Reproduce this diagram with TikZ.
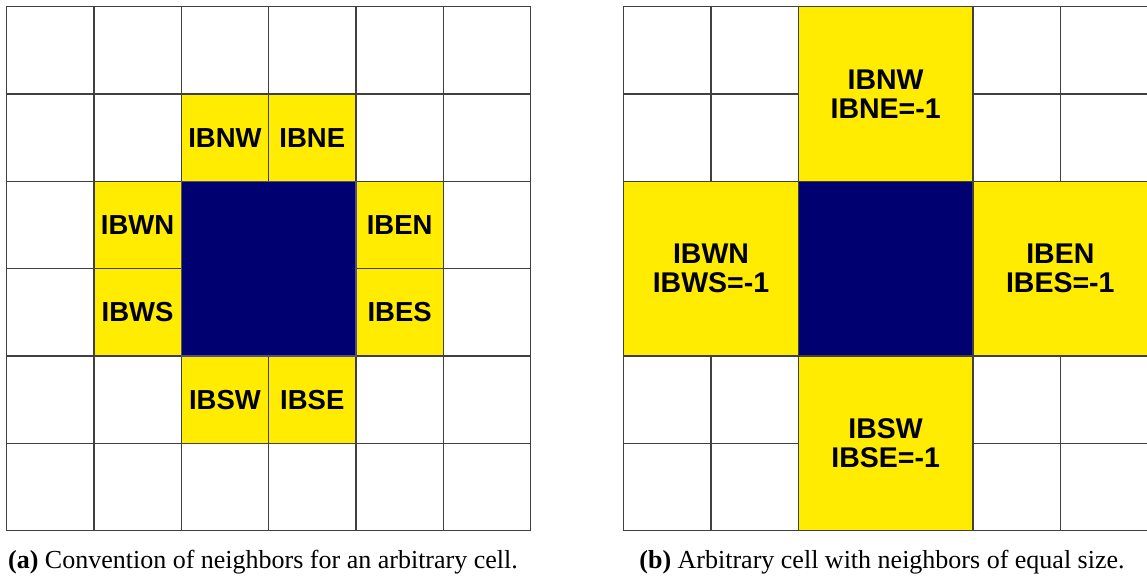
\documentclass[tikz,border=0pt]{standalone}
\usepackage{fontspec}
\setmainfont{Liberation Serif}
\newfontfamily\labelfont{Liberation Sans}
\definecolor{gridline}{HTML}{404040}
\definecolor{cellyellow}{HTML}{FFEC00}
\definecolor{cellblue}{HTML}{000070}
\definecolor{blueedge}{HTML}{50507A}
\tikzset{
  cellbox/.style={draw=gridline, line width=1.3pt, fill=white, inner sep=0pt,
    minimum width=87.33pt, minimum height=87.33pt, anchor=north west},
  bigbox/.style={cellbox, minimum width=174.67pt, minimum height=174.67pt},
  nbr/.style={fill=cellyellow, font=\labelfont\bfseries\fontsize{27.5}{29}\selectfont, align=center},
  nbrbig/.style={nbr, font=\labelfont\bfseries\fontsize{28.5}{29}\selectfont},
  centre/.style={fill=cellblue},
  captext/.style={font=\fontsize{26}{30}\selectfont, anchor=base}
}
\begin{document}
\begin{tikzpicture}[x=1pt, y=-1pt]
\useasboundingbox (0,0) rectangle (1147,577);
\def\cs{87.33}
% ---- panel (a): 6x6 grid with one cell and its eight neighbours
\foreach \i in {0,...,5} {
  \foreach \j in {0,...,5} {
    \node[cellbox] (a-\i-\j) at ({6+\i*\cs},{6+\j*\cs}) {};
  }
}
\node[cellbox, nbr] (aNW) at ({6+2*\cs},{6+1*\cs}) {IBNW};
\node[cellbox, nbr] (aNE) at ({6+3*\cs},{6+1*\cs}) {IBNE};
\node[cellbox, nbr] (aWN) at ({6+1*\cs},{6+2*\cs}) {IBWN};
\node[cellbox, nbr] (aWS) at ({6+1*\cs},{6+3*\cs}) {IBWS};
\node[cellbox, nbr] (aEN) at ({6+4*\cs},{6+2*\cs}) {IBEN};
\node[cellbox, nbr] (aES) at ({6+4*\cs},{6+3*\cs}) {IBES};
\node[cellbox, nbr] (aSW) at ({6+2*\cs},{6+4*\cs}) {IBSW};
\node[cellbox, nbr] (aSE) at ({6+3*\cs},{6+4*\cs}) {IBSE};
\node[bigbox, centre, draw=blueedge] (aC) at ({6+2*\cs},{6+2*\cs}) {};
% ---- panel (b): neighbours as large as the cell itself
\foreach \i/\j in {0/0,1/0,0/1,1/1,4/0,5/0,4/1,5/1,0/4,1/4,0/5,1/5,4/4,5/4,4/5,5/5} {
  \node[cellbox] (b-\i-\j) at ({623+\i*\cs},{6+\j*\cs}) {};
}
\node[bigbox, nbrbig] (bN) at ({623+2*\cs},{6+0*\cs}) {IBNW\\IBNE=-1};
\node[bigbox, nbrbig] (bW) at ({623+0*\cs},{6+2*\cs}) {IBWN\\IBWS=-1};
\node[bigbox, nbrbig] (bE) at ({623+4*\cs},{6+2*\cs}) {IBEN\\IBES=-1};
\node[bigbox, nbrbig] (bS) at ({623+2*\cs},{6+4*\cs}) {IBSW\\IBSE=-1};
\node[bigbox, centre] (bC) at ({623+2*\cs},{6+2*\cs}) {};
% ---- captions
\node[captext] (capa) at (263,568) {\textbf{(a)} Convention of neighbors for an arbitrary cell.};
\node[captext] (capb) at (882,568) {\textbf{(b)} Arbitrary cell with neighbors of equal size.};
\end{tikzpicture}
\end{document}
